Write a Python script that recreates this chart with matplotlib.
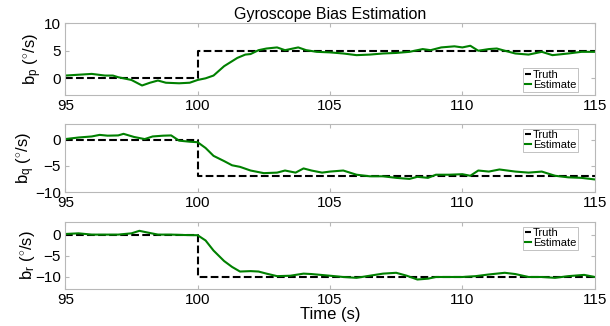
import matplotlib.pyplot as plt

plt.rcParams['font.family'] = ['Liberation Sans', 'DejaVu Sans']
plt.rcParams['mathtext.fontset'] = 'custom'
plt.rcParams['mathtext.rm'] = 'Liberation Sans'
plt.rcParams['mathtext.it'] = 'Liberation Sans'

# truth step (bias jumps at t = 100 s)
t_truth = [95, 100, 100, 115]
bp_truth = [0, 0, 5, 5]
bq_truth = [0, 0, -7, -7]
br_truth = [0, 0, -10, -10]

# estimates
t_p = [95, 96, 96.5, 96.8, 97, 97.5, 97.9, 98.2, 98.5, 98.8, 99.3, 99.7, 100, 100.3,
       100.6, 101, 101.5, 101.8, 102, 102.3, 102.6, 103, 103.3, 103.5, 103.8, 104.1,
       104.5, 105, 105.5, 106, 106.5, 107, 107.5, 108, 108.5, 108.8, 109.2, 109.7,
       110, 110.3, 110.6, 111, 111.3, 111.6, 112, 112.5, 113, 113.4, 114, 114.5, 115]
bp_est = [0.5, 0.8, 0.5, 0.5, 0.2, -0.3, -1.3, -0.8, -0.4, -0.8, -0.9, -0.8, -0.3, 0.0,
          0.5, 2.2, 3.7, 4.3, 4.4, 5.1, 5.4, 5.6, 5.1, 5.3, 5.6, 5.1,
          4.8, 4.7, 4.5, 4.2, 4.3, 4.5, 4.6, 4.8, 5.3, 5.1, 5.6, 5.8,
          5.6, 5.9, 5.0, 5.3, 5.4, 5.0, 4.5, 4.3, 4.8, 4.2, 4.5, 4.8, 4.8]

t_q = [95, 95.5, 96, 96.3, 96.6, 97, 97.2, 97.6, 98, 98.3, 98.7, 99, 99.3, 99.7, 100,
       100.3, 100.6, 101, 101.3, 101.6, 102, 102.5, 103, 103.3, 103.7, 104, 104.3,
       104.7, 105, 105.5, 106, 106.5, 107, 107.5, 108, 108.3, 108.7, 109, 109.5, 110,
       110.3, 110.6, 111, 111.4, 112, 112.5, 113, 113.5, 114, 114.5, 115]
bq_est = [0.1, 0.4, 0.6, 0.9, 0.75, 0.8, 1.1, 0.5, 0.1, 0.6, 0.75, 0.8, -0.2, -0.4, -0.5,
          -1.6, -3.1, -4.1, -4.9, -5.2, -5.9, -6.4, -6.3, -5.9, -6.3, -5.5, -5.9,
          -6.3, -6.1, -5.9, -6.7, -7.0, -7.0, -7.3, -7.5, -7.1, -7.3, -6.7, -6.7, -6.6,
          -6.9, -5.9, -6.1, -5.7, -6.1, -6.3, -6.1, -6.9, -7.2, -7.3, -7.6]

t_r = [95, 95.5, 96, 97, 97.5, 97.8, 98.1, 98.5, 99, 99.5, 100, 100.3, 100.6, 101,
       101.3, 101.6, 102, 102.3, 102.6, 103, 103.5, 104, 104.3, 105, 105.5, 106, 106.5,
       107, 107.5, 107.9, 108.3, 108.7, 109, 110, 110.5, 111, 111.6, 112, 112.5, 113,
       113.5, 114, 114.6, 115]
br_est = [0.15, 0.3, 0.0, 0.0, 0.3, 0.9, 0.5, 0.0, 0.0, -0.1, -0.15, -1.4, -3.8, -6.3,
          -7.7, -8.8, -8.7, -8.8, -9.3, -9.9, -9.8, -9.3, -9.4, -9.8, -10.1, -10.3, -9.8,
          -9.3, -9.1, -9.8, -10.7, -10.5, -10.1, -10.1, -9.9, -9.5, -9.1, -9.4, -10.1, -10.1,
          -10.3, -9.9, -9.6, -10.1]

panels = [
    (t_p, bp_est, bp_truth, r'b$_{\rm p}$ ($^{\circ}$/s)', (-3, 10), [0, 5, 10], 'lower right'),
    (t_q, bq_est, bq_truth, r'b$_{\rm q}$ ($^{\circ}$/s)', (-10, 3), [-10, -5, 0], 'upper right'),
    (t_r, br_est, br_truth, r'b$_{\rm r}$ ($^{\circ}$/s)', (-13, 3), [-10, -5, 0], 'upper right'),
]

boxes = [(0.709, 0.929), (0.411, 0.620), (0.113, 0.319)]
left, right = 0.107, 0.975
label_x = [-0.040, -0.053, -0.053]   # ylabel right edge, axes fraction

fig = plt.figure(figsize=(6.1, 3.26), dpi=100)
gray = '#b8b8b8'

for i, ((t, est, truth, lab, ylim, yt, loc), (b, tp)) in enumerate(zip(panels, boxes)):
    ax = fig.add_axes([left, b, right - left, tp - b])
    ax.plot(t_truth, truth, '--', color='black', lw=1.5, label='Truth')
    ax.plot(t, est, '-', color='#008000', lw=1.5, label='Estimate')
    ax.set_xlim(95, 115)
    ax.set_ylim(*ylim)
    ax.set_xticks([95, 100, 105, 110, 115])
    ax.set_yticks(yt)
    ax.tick_params(direction='in', top=True, right=True, color=gray, length=3,
                   labelsize=11, pad=3)
    for s in ax.spines.values():
        s.set_color(gray)
        s.set_linewidth(0.8)
    ax.set_ylabel(lab, fontsize=12)
    ax.yaxis.set_label_coords(label_x[i], 0.5)
    anchor = (0.975, 0.0, 0, 1) if loc == 'lower right' else (0.975, 0.0, 0, 0.98)
    leg = ax.legend(loc=loc, fontsize=8, handlelength=0.6, handletextpad=0.15,
                    borderpad=0.15, labelspacing=0.0, borderaxespad=0.3,
                    fancybox=False, framealpha=1, bbox_to_anchor=anchor)
    leg.get_frame().set_edgecolor(gray)
    leg.get_frame().set_linewidth(0.6)
    if i == 0:
        ax.set_title('Gyroscope Bias Estimation', fontsize=11.5, pad=3)
    if i == 2:
        ax.set_xlabel('Time (s)', fontsize=12, labelpad=0)

fig.savefig('out.png', dpi=100)
